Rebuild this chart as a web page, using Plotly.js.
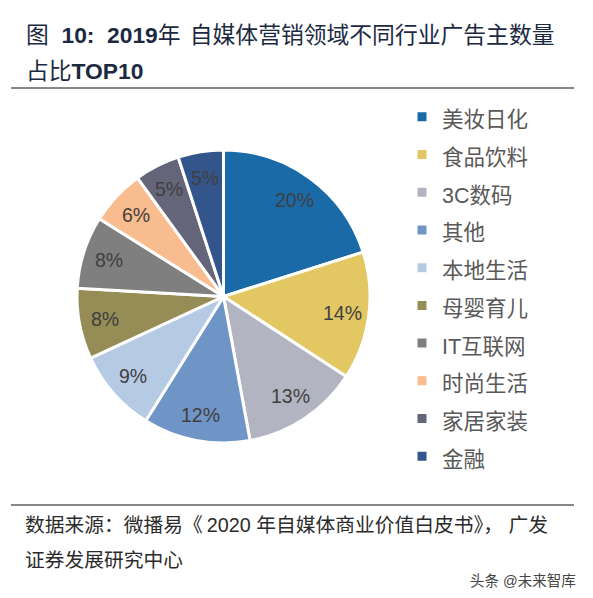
<!DOCTYPE html>
<html><head><meta charset="utf-8">
<script src="https://cdn.plot.ly/plotly-3.0.1.min.js"></script>
<style>html,body{margin:0;padding:0;background:#fff}#c{width:593px;height:598px}</style>
</head><body><div id="c"></div>
<script>
const categories = ["美妆日化","食品饮料","3C数码","其他","本地生活","母婴育儿","IT互联网","时尚生活","家居家装","金融"];
const shares = [20.1,14.1,12.9,11.8,9.2,7.8,8.0,6.1,5.0,5.0];
const sliceColors = ["#1a6aa8","#e2c763","#b3b4c1","#6f94c6","#b5cbe4","#968c55","#7f7f7f","#f9bc8e","#65657a","#34558c"];
const titleLines = ["图  <b>10:  2019</b>年\u2009\u2009自媒体营销领域不同行业广告主数量","占比<b>TOP10</b>"];
const sourceLines = ["数据来源：微播易《\u20092020 年自媒体商业价值白皮书》， 广发","证券发展研究中心"];
const watermark = "头条 @未来智库";

const W=593,H=598;
const FONT='"Liberation Sans","Noto Sans CJK SC",sans-serif';
const cx=223.5, cy=296.5, r=146.5;
const annotations=[];
titleLines.forEach((t,i)=>annotations.push({text:t,xref:'paper',yref:'paper',x:24/W,y:1-[34.5,71][i]/H,xanchor:'left',yanchor:'middle',showarrow:false,font:{family:FONT,size:22.8,color:'#1b2a41'}}));
sourceLines.forEach((t,i)=>annotations.push({text:t,xref:'paper',yref:'paper',x:23/W,y:1-[525,560][i]/H,xanchor:'left',yanchor:'middle',showarrow:false,font:{family:FONT,size:19.75,color:'#2b2b2b'}}));
annotations.push({text:watermark,xref:'paper',yref:'paper',x:578/W,y:1-581/H,xanchor:'right',yanchor:'middle',showarrow:false,font:{family:FONT,size:14.5,color:'#444444'}});
const rule=y=>({type:'line',xref:'paper',yref:'paper',x0:11/W,x1:574/W,y0:1-y/H,y1:1-y/H,line:{color:'#111111',width:1.2}});

// Percent labels sit on a fixed radius, at each slice's mid-angle computed from the shares.
const total=shares.reduce((a,b)=>a+b,0);
let run=0;
shares.forEach(v=>{
  const a=(run+v/2)/total*2*Math.PI; run+=v;
  annotations.push({text:Math.round(v/total*100)+'%',xref:'paper',yref:'paper',
    x:(cx+0.82*r*Math.sin(a))/W,y:1-(cy-0.82*r*Math.cos(a))/H,
    xanchor:'center',yanchor:'middle',showarrow:false,
    font:{family:FONT,size:19.5,color:'#404040'}});
});

Plotly.newPlot('c',[{
  type:'pie',
  labels:categories.map(c=>'<span style="font-size:21.5px">'+c+'</span>'),
  values:shares,
  sort:false,direction:'clockwise',rotation:0,
  marker:{colors:sliceColors,line:{color:'#ffffff',width:3}},
  textinfo:'none',
  hoverinfo:'label+percent',
  domain:{x:[(cx-r)/W,(cx+r)/W],y:[1-(cy+r)/H,1-(cy-r)/H]}
}],{
  width:W,height:H,
  margin:{l:0,r:0,t:0,b:0},
  paper_bgcolor:'#fff',
  showlegend:true,
  legend:{x:402/W,y:1-93/H,xanchor:'left',yanchor:'top',bgcolor:'rgba(0,0,0,0)',traceorder:'normal',
    font:{family:FONT,size:26.7,color:'#595959'}},
  shapes:[rule(88),rule(505)],
  annotations
},{displayModeBar:false,staticPlot:true});
</script></body></html>
